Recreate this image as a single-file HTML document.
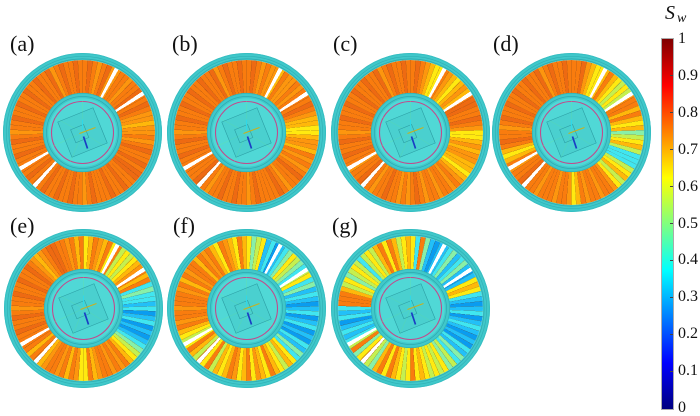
<!DOCTYPE html>
<html><head><meta charset="utf-8">
<style>
html,body{margin:0;padding:0;background:#fff;}
body{width:700px;height:412px;position:relative;overflow:hidden;font-family:"Liberation Serif",serif;}
.disk{position:absolute;width:159px;height:159px;}
.seg{position:absolute;left:7px;top:7px;width:145px;height:145px;border-radius:50%;background:#f67c10;}
.disk svg{position:absolute;left:0;top:0;width:159px;height:159px;}
.lab{position:absolute;font-size:22px;line-height:22px;color:#111;}
.cb{position:absolute;left:661px;top:38px;width:11px;height:370px;border:1px solid #aaa;
background:linear-gradient(to top,#00007f 0%,#0000ff 12.5%,#00ffff 37.5%,#ffff00 62.5%,#ff0000 87.5%,#7f0000 100%);}
.tk{position:absolute;left:670px;width:3px;height:1px;background:#444;}
.tl{position:absolute;left:678px;font-size:16px;line-height:16px;color:#111;}
</style></head>
<body>

<div class="lab" style="left:10px;top:33px">(a)</div>
<div class="lab" style="left:172px;top:33px">(b)</div>
<div class="lab" style="left:333px;top:33px">(c)</div>
<div class="lab" style="left:493px;top:33px">(d)</div>
<div class="lab" style="left:10px;top:215px">(e)</div>
<div class="lab" style="left:173px;top:215px">(f)</div>
<div class="lab" style="left:332px;top:215px">(g)</div>

<div class="disk" style="left:3px;top:53px"><div class="seg"></div></div>
<div class="disk" style="left:166.5px;top:53px"><div class="seg"></div></div>
<div class="disk" style="left:330.5px;top:53px"><div class="seg"></div></div>
<div class="disk" style="left:491.5px;top:53px"><div class="seg"></div></div>
<div class="disk" style="left:3.5px;top:228.5px"><div class="seg"></div></div>
<div class="disk" style="left:167px;top:228.5px"><div class="seg"></div></div>
<div class="disk" style="left:330.5px;top:228.5px"><div class="seg"></div></div>

<div class="cb"></div>
<div class="tk" style="top:75px"></div>
<div class="tk" style="top:112px"></div>
<div class="tk" style="top:149px"></div>
<div class="tk" style="top:186px"></div>
<div class="tk" style="top:223px"></div>
<div class="tk" style="top:260px"></div>
<div class="tk" style="top:297px"></div>
<div class="tk" style="top:334px"></div>
<div class="tk" style="top:371px"></div>

<div class="tl" style="top:31px">1</div>
<div class="tl" style="top:68px">0.9</div>
<div class="tl" style="top:105px">0.8</div>
<div class="tl" style="top:142px">0.7</div>
<div class="tl" style="top:179px">0.6</div>
<div class="tl" style="top:216px">0.5</div>
<div class="tl" style="top:252px">0.4</div>
<div class="tl" style="top:289px">0.3</div>
<div class="tl" style="top:326px">0.2</div>
<div class="tl" style="top:363px">0.1</div>
<div class="tl" style="top:400px">0</div>

<div style="position:absolute;left:665px;top:3px;font-size:20px;line-height:20px;font-style:italic;color:#111;">S</div>
<div style="position:absolute;left:677px;top:12px;font-size:14px;line-height:14px;font-style:italic;color:#111;">w</div>

<script>
(function(){
var C={O:'#f97c0e',D:'#ee6a12',L:'#fd960e',A:'#ffb80a',Y:'#ffea10',G:'#c4f050',M:'#88f0a8',C:'#40e6f0',B:'#22c0f8',N:'#0a9cf0',W:'#ffffff'};
var S=[
"ODOLODLLOO"+"LOODOODOLL"+"ALLOLODOOD"+"ODDOODOODO"+"OODOLOODOO"+"DOODOOODOO"+"OODOODOLOO"+"DOODOODOOD"+"OODLODOODO",
"ODOLOLLAOL"+"LOLOOODOLA"+"AYYALLAOLO"+"LODOOLODOO"+"OODOLOODOO"+"DOOLOODOOO"+"OODOODOLOO"+"DOODOODOOD"+"OODLODOODO",
"ODOLAYYOLA"+"YALAODDOOD"+"OLYYALALLA"+"AYALOLOOLO"+"OLODOLOLOO"+"DOOLOODOOL"+"OODOODOLOO"+"DOODOODOOD"+"OODLODOODO",
"OODLAYYAOA"+"YGYGLOOAOA"+"YAMGYAGCCC"+"GYAGYLOOLO"+"OLOAYLOOLO"+"OOLOOODOOL"+"OAYAODOOLO"+"DOODOODOOD"+"OODLODOODO",
"YAOLAOYOGY"+"GYALOAOCMC"+"CBCNBCNBNB"+"CMGYAOLOLO"+"OLAOYYLOAO"+"LOOLAOOAOO"+"OODOODOLOO"+"DOODOODOLA"+"LODDOOLOAO",
"YMGYBCNBCM"+"YGMCGYCMBC"+"BNBCNBCNBN"+"CBMCYAGYAO"+"YALYOAYLOA"+"YAGOYOGAOY"+"GYAOLOOLOO"+"OLOAOLOOAO"+"LOAYOLAYOA",
"YCOMBNBBCM"+"BCMBNBYAYC"+"BNBCNBCBNB"+"NCBMCGMYGY"+"GYAYOYGYAO"+"YOAMGOYMOG"+"CBCBNCBCOO"+"OAGYMGYGCG"+"YGAOYOAGYA"
];
var gaps="conic-gradient(from 0deg,transparent 0deg 26.5deg,#fff 26.5deg 29.8deg,transparent 29.8deg 55.5deg,#fff 55.5deg 58.8deg,transparent 58.8deg 220.3deg,#fff 220.3deg 223.6deg,transparent 223.6deg 238.3deg,#fff 238.3deg 241.6deg,transparent 241.6deg 360deg)";
var lines="repeating-conic-gradient(from 0deg,rgba(105,60,30,.4) 0deg .42deg,transparent .42deg 4deg)";
var svg='<svg viewBox="-79.5 -79.5 159 159" xmlns="http://www.w3.org/2000/svg">'+
'<circle r="76" fill="none" stroke="#40c8ca" stroke-width="7"/>'+
'<circle r="79" fill="none" stroke="#36bec2" stroke-width="1"/>'+
'<circle r="76.2" fill="none" stroke="#32b0b6" stroke-width=".7"/>'+
'<circle r="73.6" fill="none" stroke="#2ea8ae" stroke-width=".7"/>'+
'<circle r="39.5" fill="#40c8ca"/>'+
'<circle r="39.2" fill="none" stroke="#32b4b8" stroke-width=".8"/>'+
'<circle r="36" fill="none" stroke="#2eaab0" stroke-width=".7"/>'+
'<circle r="34.3" fill="#50d8d6"/>'+
'<circle r="31" fill="none" stroke="#c24a8c" stroke-width="1.1"/>'+
'<g stroke="#6ae89a" stroke-width=".5" opacity=".6"><line x1="0" y1="0" x2="0" y2="-33"/><line x1="0" y1="0" x2="-30" y2="14"/><line x1="0" y1="0" x2="27" y2="17"/><line x1="0" y1="0" x2="-12" y2="29"/><line x1="0" y1="0" x2="-28" y2="-15"/></g>'+
'<rect x="-19" y="-19" width="38" height="38" transform="rotate(-22)" fill="#38b8ba" fill-opacity=".25" stroke="#2c9ea4" stroke-width=".6"/>'+
'<rect x="-10" y="-7" width="14" height="14" transform="rotate(-22)" fill="none" stroke="#2c9ea4" stroke-width=".6"/>'+
'<line x1="0" y1="-13" x2="0" y2="-2" stroke="#30d8e8" stroke-width="1"/>'+
'<line x1="-3" y1="1" x2="13" y2="-5" stroke="#c8b020" stroke-width="1.1"/>'+
'<line x1="1" y1="4" x2="5" y2="16" stroke="#1a3cc4" stroke-width="1.7"/>'+
'</svg>';
var disks=document.querySelectorAll('.disk');
for(var k=0;k<disks.length;k++){
 var s=S[k],st=[];
 for(var i=0;i<90;i++){st.push(C[s.charAt(i)]+' '+(4*i)+'deg '+(4*i+4)+'deg');}
 var seg=disks[k].querySelector('.seg');
 seg.style.background=gaps+','+lines+',conic-gradient(from 0deg,'+st.join(',')+')';
 disks[k].insertAdjacentHTML('beforeend',svg);
}
})();
</script>
</body></html>
